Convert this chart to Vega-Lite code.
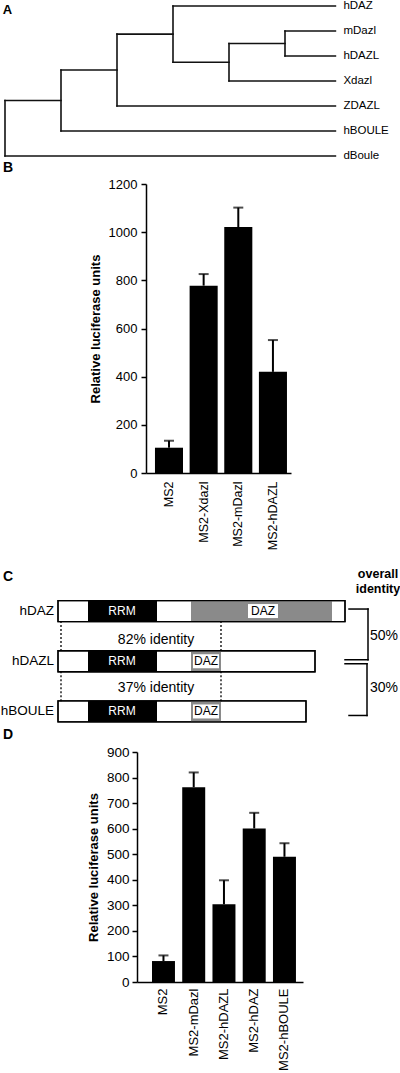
{
  "$schema": "https://vega.github.io/schema/vega-lite/v6.json",
  "background": "white",
  "padding": {"left": 0, "top": 0, "right": 0, "bottom": 0},
  "bounds": "flush",
  "spacing": 25,
  "config": {
    "view": {"stroke": null},
    "font": "Liberation Sans",
    "axis": {"labelFont": "Liberation Sans", "titleFont": "Liberation Sans", "domainColor": "black", "tickColor": "black", "labelColor": "black", "titleColor": "black", "grid": false},
    "text": {"font": "Liberation Sans", "color": "black"},
    "title": {"font": "Liberation Sans", "color": "black"}
  },
  "vconcat": [
    {
      "width": 336,
      "height": 153,
      "encoding": {
        "x": {"field": "d1", "type": "quantitative", "scale": {"domain": [0, 6], "nice": false, "zero": false}, "axis": null},
        "y": {"field": "r1", "type": "quantitative", "scale": {"domain": [0, 6.12], "nice": false, "zero": false, "reverse": true}, "axis": null}
      },
      "layer": [
        {
          "data": {"values": [
            {"d1": 0, "d2": 5.9, "r1": 6, "r2": 6},
            {"d1": 1, "d2": 5.9, "r1": 5, "r2": 5},
            {"d1": 2, "d2": 5.9, "r1": 4, "r2": 4},
            {"d1": 3, "d2": 5.9, "r1": 0, "r2": 0},
            {"d1": 4, "d2": 5.9, "r1": 3, "r2": 3},
            {"d1": 5, "d2": 5.9, "r1": 1, "r2": 1},
            {"d1": 5, "d2": 5.9, "r1": 2, "r2": 2},
            {"d1": 0, "d2": 1, "r1": 3.78, "r2": 3.78},
            {"d1": 1, "d2": 2, "r1": 2.56, "r2": 2.56},
            {"d1": 2, "d2": 3, "r1": 1.125, "r2": 1.125},
            {"d1": 3, "d2": 4, "r1": 2.25, "r2": 2.25},
            {"d1": 4, "d2": 5, "r1": 1.5, "r2": 1.5},
            {"d1": 0, "d2": 0, "r1": 3.78, "r2": 6},
            {"d1": 1, "d2": 1, "r1": 2.56, "r2": 5},
            {"d1": 2, "d2": 2, "r1": 1.125, "r2": 4},
            {"d1": 3, "d2": 3, "r1": 0, "r2": 2.25},
            {"d1": 4, "d2": 4, "r1": 1.5, "r2": 3},
            {"d1": 5, "d2": 5, "r1": 1, "r2": 2}
          ]},
          "mark": {"type": "rule", "color": "#111", "strokeWidth": 1.6, "strokeCap": "square"},
          "encoding": {"x2": {"field": "d2"}, "y2": {"field": "r2"}}
        },
        {
          "data": {"values": [
            {"d1": 5.9, "r1": 0, "label": "hDAZ"},
            {"d1": 5.9, "r1": 1, "label": "mDazl"},
            {"d1": 5.9, "r1": 2, "label": "hDAZL"},
            {"d1": 5.9, "r1": 3, "label": "Xdazl"},
            {"d1": 5.9, "r1": 4, "label": "ZDAZL"},
            {"d1": 5.9, "r1": 5, "label": "hBOULE"},
            {"d1": 5.9, "r1": 6, "label": "dBoule"}
          ]},
          "mark": {"type": "text", "align": "left", "baseline": "middle", "dx": 8, "fontSize": 11.5},
          "encoding": {"text": {"field": "label"}}
        },
        {
          "data": {"values": [{"d1": -0.04, "r1": 0.17, "label": "A"}]},
          "mark": {"type": "text", "align": "left", "baseline": "middle", "fontSize": 13, "fontWeight": "bold"},
          "encoding": {"text": {"field": "label"}}
        }
      ]
    },
    {
      "width": 290,
      "height": 289,
      "title": {"text": "B", "anchor": "start", "frame": "group", "fontSize": 14, "fontWeight": "bold", "baseline": "bottom", "offset": -11, "dx": -2},
      "data": {"values": [
        {"construct": "MS2", "value": 105, "err": 134},
        {"construct": "MS2-Xdazl", "value": 778, "err": 826},
        {"construct": "MS2-mDazl", "value": 1021, "err": 1102},
        {"construct": "MS2-hDAZL", "value": 420, "err": 552}
      ]},
      "encoding": {
        "x": {"field": "construct", "type": "nominal", "sort": null,
              "scale": {"range": [141, 286], "paddingInner": 0.19, "paddingOuter": 0.1875, "align": 0.69},
              "axis": {"title": null, "ticks": false, "domainWidth": 1.5, "labelAngle": -90, "labelAlign": "right", "labelBaseline": "middle", "labelPadding": 8, "labelFontSize": 12.5}}
      },
      "layer": [
        {
          "mark": {"type": "bar", "color": "black"},
          "encoding": {
            "y": {"field": "value", "type": "quantitative", "title": "Relative luciferase units",
                  "scale": {"domain": [0, 1200], "nice": false},
                  "axis": {"values": [0, 200, 400, 600, 800, 1000, 1200], "format": "d", "labelOverlap": false, "offset": -141, "domainWidth": 1.5, "tickWidth": 1.5, "tickSize": 5, "labelPadding": 4, "labelFontSize": 13, "titleFontSize": 13, "titleFontWeight": "bold", "titlePadding": 6}}
          }
        },
        {
          "mark": {"type": "rule", "color": "black", "strokeWidth": 2},
          "encoding": {"y": {"field": "value", "type": "quantitative", "title": "Relative luciferase units",
                  "axis": {"values": [0, 200, 400, 600, 800, 1000, 1200], "format": "d", "labelOverlap": false, "offset": -141, "domainWidth": 1.5, "tickWidth": 1.5, "tickSize": 5, "labelPadding": 4, "labelFontSize": 13, "titleFontSize": 13, "titleFontWeight": "bold", "titlePadding": 6}}, "y2": {"field": "err"}}
        },
        {
          "mark": {"type": "tick", "color": "black", "size": 10, "thickness": 2},
          "encoding": {"y": {"field": "err", "type": "quantitative", "title": "Relative luciferase units",
                  "axis": {"values": [0, 200, 400, 600, 800, 1000, 1200], "format": "d", "labelOverlap": false, "offset": -141, "domainWidth": 1.5, "tickWidth": 1.5, "tickSize": 5, "labelPadding": 4, "labelFontSize": 13, "titleFontSize": 13, "titleFontWeight": "bold", "titlePadding": 6}}}
        }
      ]
    },
    {
      "width": 390,
      "height": 229,
      "encoding": {
        "x": {"field": "pos", "type": "quantitative", "scale": {"domain": [-53, 337], "nice": false, "zero": false}, "axis": null},
        "y": {"field": "row", "type": "quantitative", "scale": {"domain": [-2.152, 2.21], "nice": false, "zero": false, "reverse": true}, "axis": null}
      },
      "layer": [
        {
          "data": {"values": [
            {"protein": "hDAZ", "row": 0, "pos": 0, "pos2": 287},
            {"protein": "hDAZL", "row": 1, "pos": 0, "pos2": 257},
            {"protein": "hBOULE", "row": 2, "pos": 0, "pos2": 248}
          ]},
          "mark": {"type": "bar", "size": 21, "fill": "white", "stroke": "black", "strokeWidth": 1.3},
          "encoding": {"x2": {"field": "pos2"}}
        },
        {
          "data": {"values": [
            {"domain": "RRM", "row": 0, "pos": 30, "pos2": 99},
            {"domain": "RRM", "row": 1, "pos": 30, "pos2": 99},
            {"domain": "RRM", "row": 2, "pos": 30, "pos2": 99}
          ]},
          "mark": {"type": "bar", "size": 21, "fill": "black"},
          "encoding": {"x2": {"field": "pos2"}}
        },
        {
          "data": {"values": [
            {"domain": "DAZ", "row": 0, "pos": 133, "pos2": 274},
            {"domain": "DAZ", "row": 1, "pos": 133, "pos2": 163},
            {"domain": "DAZ", "row": 2, "pos": 133, "pos2": 163}
          ]},
          "mark": {"type": "bar", "size": 21, "fill": "#8a8a8a"},
          "encoding": {"x2": {"field": "pos2"}}
        },
        {
          "data": {"values": [
            {"row": 0, "pos": 190, "pos2": 220},
            {"row": 1, "pos": 135, "pos2": 161},
            {"row": 2, "pos": 135, "pos2": 161}
          ]},
          "mark": {"type": "bar", "size": 14, "fill": "white"},
          "encoding": {"x2": {"field": "pos2"}}
        },
        {
          "data": {"values": [
            {"protein": "hDAZ", "row": 0, "pos": 0, "pos2": 287},
            {"protein": "hDAZL", "row": 1, "pos": 0, "pos2": 257},
            {"protein": "hBOULE", "row": 2, "pos": 0, "pos2": 248}
          ]},
          "mark": {"type": "bar", "size": 21, "fill": null, "fillOpacity": 0, "stroke": "black", "strokeWidth": 1.3},
          "encoding": {"x2": {"field": "pos2"}}
        },
        {
          "data": {"values": [
            {"pos": 3, "row": 0.2, "row2": 0.8},
            {"pos": 163, "row": 0.2, "row2": 0.8},
            {"pos": 3, "row": 1.2, "row2": 1.8},
            {"pos": 163, "row": 1.2, "row2": 1.8}
          ]},
          "mark": {"type": "rule", "color": "black", "strokeWidth": 1.3, "strokeDash": [2, 2]},
          "encoding": {"y2": {"field": "row2"}}
        },
        {
          "data": {"values": [
            {"pos": 291, "pos2": 310, "row": -0.04, "row2": -0.04},
            {"pos": 310, "pos2": 310, "row": -0.04, "row2": 0.97},
            {"pos": 287, "pos2": 310, "row": 0.97, "row2": 0.97},
            {"pos": 287, "pos2": 309, "row": 1.05, "row2": 1.05},
            {"pos": 309, "pos2": 309, "row": 1.05, "row2": 2.08},
            {"pos": 291, "pos2": 309, "row": 2.08, "row2": 2.08}
          ]},
          "mark": {"type": "rule", "color": "black", "strokeWidth": 1.5, "strokeCap": "square"},
          "encoding": {"x2": {"field": "pos2"}, "y2": {"field": "row2"}}
        },
        {
          "data": {"values": [
            {"pos": -4, "row": 0, "label": "hDAZ"},
            {"pos": -4, "row": 1, "label": "hDAZL"},
            {"pos": -4, "row": 2, "label": "hBOULE"}
          ]},
          "mark": {"type": "text", "align": "right", "baseline": "middle", "fontSize": 13.5},
          "encoding": {"text": {"field": "label"}}
        },
        {
          "data": {"values": [
            {"pos": 64, "row": 0, "label": "RRM"},
            {"pos": 64, "row": 1, "label": "RRM"},
            {"pos": 64, "row": 2, "label": "RRM"}
          ]},
          "mark": {"type": "text", "align": "center", "baseline": "middle", "fontSize": 12, "color": "white"},
          "encoding": {"text": {"field": "label"}}
        },
        {
          "data": {"values": [
            {"pos": 205, "row": 0, "label": "DAZ"},
            {"pos": 148, "row": 1, "label": "DAZ"},
            {"pos": 148, "row": 2, "label": "DAZ"}
          ]},
          "mark": {"type": "text", "align": "center", "baseline": "middle", "fontSize": 12},
          "encoding": {"text": {"field": "label"}}
        },
        {
          "data": {"values": [
            {"pos": 98, "row": 0.57, "label": "82% identity"},
            {"pos": 98, "row": 1.54, "label": "37% identity"}
          ]},
          "mark": {"type": "text", "align": "center", "baseline": "middle", "fontSize": 14},
          "encoding": {"text": {"field": "label"}}
        },
        {
          "data": {"values": [
            {"pos": 312, "row": 0.5, "label": "50%"},
            {"pos": 312, "row": 1.54, "label": "30%"}
          ]},
          "mark": {"type": "text", "align": "left", "baseline": "middle", "fontSize": 14},
          "encoding": {"text": {"field": "label"}}
        },
        {
          "data": {"values": [
            {"pos": 320, "row": -0.743, "label": "overall"},
            {"pos": 320, "row": -0.438, "label": "identity"}
          ]},
          "mark": {"type": "text", "align": "center", "baseline": "middle", "fontSize": 12.5, "fontWeight": "bold"},
          "encoding": {"text": {"field": "label"}}
        },
        {
          "data": {"values": [{"pos": -55, "row": -0.686, "label": "C"}]},
          "mark": {"type": "text", "align": "left", "baseline": "middle", "fontSize": 14, "fontWeight": "bold"},
          "encoding": {"text": {"field": "label"}}
        }
      ]
    },
    {
      "width": 300,
      "height": 230,
      "title": {"text": "D", "anchor": "start", "frame": "group", "fontSize": 14, "fontWeight": "bold", "baseline": "bottom", "offset": -11, "dx": -2},
      "data": {"values": [
        {"construct": "MS2", "value": 82, "err": 104},
        {"construct": "MS2-mDazl", "value": 762, "err": 820},
        {"construct": "MS2-hDAZL", "value": 304, "err": 398},
        {"construct": "MS2-hDAZ", "value": 601, "err": 662},
        {"construct": "MS2-hBOULE", "value": 490, "err": 543}
      ]},
      "encoding": {
        "x": {"field": "construct", "type": "nominal", "sort": null,
              "scale": {"range": [132, 298], "paddingInner": 0.24, "paddingOuter": 0.364, "align": 0.68},
              "axis": {"title": null, "ticks": false, "domainWidth": 1.5, "labelAngle": -90, "labelAlign": "right", "labelBaseline": "middle", "labelPadding": 6, "labelFontSize": 13}}
      },
      "layer": [
        {
          "mark": {"type": "bar", "color": "black"},
          "encoding": {
            "y": {"field": "value", "type": "quantitative", "title": "Relative luciferase units",
                  "scale": {"domain": [0, 900], "nice": false},
                  "axis": {"values": [0, 100, 200, 300, 400, 500, 600, 700, 800, 900], "format": "d", "labelOverlap": false, "offset": -132, "domainWidth": 1.5, "tickWidth": 1.5, "tickSize": 5, "labelPadding": 3, "labelFontSize": 13.5, "titleFontSize": 13, "titleFontWeight": "bold", "titlePadding": 6}}
          }
        },
        {
          "mark": {"type": "rule", "color": "black", "strokeWidth": 2},
          "encoding": {"y": {"field": "value", "type": "quantitative", "title": "Relative luciferase units",
                  "axis": {"values": [0, 100, 200, 300, 400, 500, 600, 700, 800, 900], "format": "d", "labelOverlap": false, "offset": -132, "domainWidth": 1.5, "tickWidth": 1.5, "tickSize": 5, "labelPadding": 3, "labelFontSize": 13.5, "titleFontSize": 13, "titleFontWeight": "bold", "titlePadding": 6}}, "y2": {"field": "err"}}
        },
        {
          "mark": {"type": "tick", "color": "black", "size": 10, "thickness": 2},
          "encoding": {"y": {"field": "err", "type": "quantitative", "title": "Relative luciferase units",
                  "axis": {"values": [0, 100, 200, 300, 400, 500, 600, 700, 800, 900], "format": "d", "labelOverlap": false, "offset": -132, "domainWidth": 1.5, "tickWidth": 1.5, "tickSize": 5, "labelPadding": 3, "labelFontSize": 13.5, "titleFontSize": 13, "titleFontWeight": "bold", "titlePadding": 6}}}
        }
      ]
    }
  ]
}
